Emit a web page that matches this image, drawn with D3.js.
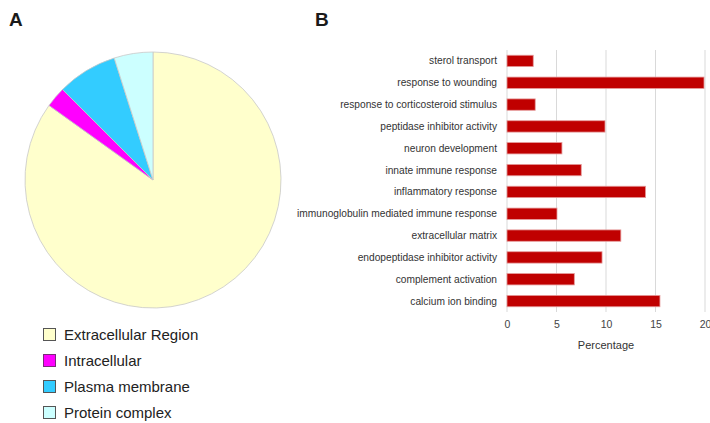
<!DOCTYPE html>
<html>
<head>
<meta charset="utf-8">
<script src="https://cdn.jsdelivr.net/npm/d3@7"></script>
<style>
  body { margin: 0; background: #fff; }
  svg { display: block; font-family: "Liberation Sans", Arial, sans-serif; }
</style>
</head>
<body>
<div id="chart"></div>
<script>
// pie data (panel A)
const pieLabels = ["Extracellular Region", "Intracellular", "Plasma membrane", "Protein complex"];
const pieValues = [84.9, 2.6, 7.6, 4.9];
const pieColors = ["#FFFFCC", "#FF00FF", "#33CCFF", "#CCFFFF"];

// bar data (panel B)
const barLabels = ["sterol transport", "response to wounding", "response to corticosteroid stimulus",
    "peptidase inhibitor activity", "neuron development", "innate immune response",
    "inflammatory response", "immunoglobulin mediated immune response", "extracellular matrix",
    "endopeptidase inhibitor activity", "complement activation", "calcium ion binding"];
const barValues = [2.65, 19.9, 2.85, 9.9, 5.55, 7.5, 14.0, 5.05, 11.5, 9.6, 6.8, 15.45];
const xTicks = [0, 5, 10, 15, 20];

const W = 710, H = 423;
const svg = d3.select("#chart").append("svg")
    .attr("width", W)
    .attr("height", H);

// panel letters
svg.append("text").attr("x", 9).attr("y", 26)
    .attr("font-size", 19).attr("font-weight", "bold").attr("fill", "#1a1a1a").text("A");
svg.append("text").attr("x", 315).attr("y", 26)
    .attr("font-size", 19).attr("font-weight", "bold").attr("fill", "#1a1a1a").text("B");

// ---- pie ----
const pieG = svg.append("g").attr("transform", "translate(153,180)");
const pie = d3.pie().sort(null).value(d => d);
const arc = d3.arc().innerRadius(0).outerRadius(128);

pieG.selectAll("path")
    .data(pie(pieValues))
    .enter()
    .append("path")
    .attr("d", arc)
    .attr("fill", (d, i) => pieColors[i])
    .attr("stroke", "#c8c8c8")
    .attr("stroke-width", 0.8);

// legend
const legend = svg.append("g").attr("transform", "translate(43,328)");
pieLabels.forEach((lab, i) => {
    let row = legend.append("g").attr("transform", "translate(0," + (i * 26) + ")");
    row.append("rect")
        .attr("x", 0.5).attr("y", 0.5)
        .attr("width", 12).attr("height", 12)
        .attr("fill", pieColors[i])
        .attr("stroke", i == 1 ? "#7a2a7a" : "#555")
        .attr("stroke-width", 1);
    row.append("text")
        .attr("x", 21).attr("y", 11.5)
        .attr("font-size", 15)
        .attr("fill", "#222")
        .text(lab);
});

// ---- bar chart ----
const x = d3.scaleLinear().domain([0, 20]).range([507, 705]);
const y = d3.scaleBand().domain(barLabels).range([50, 312])
    .paddingInner(0.48).paddingOuter(0.24);

// gridlines
svg.append("g").selectAll("line")
    .data(xTicks)
    .enter()
    .append("line")
    .attr("x1", d => x(d)).attr("x2", d => x(d))
    .attr("y1", 50).attr("y2", 312)
    .attr("stroke", "#d9d9d9")
    .attr("stroke-width", 1);

svg.append("g").selectAll("rect")
    .data(barValues)
    .enter()
    .append("rect")
    .attr("x", x(0))
    .attr("y", (d, i) => y(barLabels[i]))
    .attr("width", d => x(d) - x(0))
    .attr("height", y.bandwidth())
    .attr("fill", "#C00000")
    .attr("stroke", "#e59a9a")
    .attr("stroke-width", 0.8);

// category labels
svg.append("g").selectAll("text")
    .data(barLabels)
    .enter()
    .append("text")
    .attr("x", 497)
    .attr("y", d => y(d) + y.bandwidth() / 2)
    .attr("dy", "0.35em")
    .attr("text-anchor", "end")
    .attr("font-size", 10.2)
    .attr("fill", "#333")
    .text(d => d);

// x axis
const xAxis = d3.axisBottom(x).tickValues(xTicks).tickSize(0).tickPadding(0);
const gx = svg.append("g").attr("transform", "translate(0,321)").call(xAxis);
gx.select(".domain").remove();
gx.selectAll("text")
    .attr("font-size", 10.5)
    .attr("fill", "#444")
    .attr("dy", "0.71em");

svg.append("text")
    .attr("x", 606).attr("y", 349)
    .attr("text-anchor", "middle")
    .attr("font-size", 11)
    .attr("fill", "#333")
    .text("Percentage");
</script>
</body>
</html>
